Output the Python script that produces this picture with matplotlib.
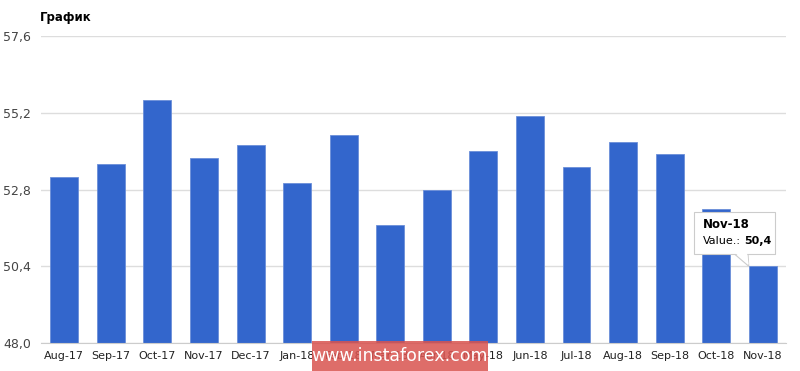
import matplotlib.pyplot as plt
from matplotlib.patches import Rectangle, Polygon
from matplotlib.ticker import FuncFormatter

months = ['Aug-17', 'Sep-17', 'Oct-17', 'Nov-17', 'Dec-17', 'Jan-18', 'Feb-18', 'Mar-18',
          'Apr-18', 'May-18', 'Jun-18', 'Jul-18', 'Aug-18', 'Sep-18', 'Oct-18', 'Nov-18']
values = [53.2, 53.6, 55.6, 53.8, 54.2, 53.0, 54.5, 51.7,
          52.8, 54.0, 55.1, 53.5, 54.3, 53.9, 52.2, 50.4]
y_ticks = [48.0, 50.4, 52.8, 55.2, 57.6]

W, H = 800, 371
fig = plt.figure(figsize=(8, 3.71), dpi=100)
ax = fig.add_axes([41 / W, 1 - 343 / H, 745 / W, 307 / H])


def fx(x):
    return x / W


def fy(y):
    return 1 - y / H


x = range(len(months))
ax.bar(x, values, width=0.6, bottom=0, color='#3366cc', edgecolor='#6b8fd9',
       linewidth=0.6, zorder=3)

ax.set_ylim(48.0, 57.6)
ax.set_xlim(-0.5, len(months) - 0.5)
ax.set_yticks(y_ticks)
ax.yaxis.set_major_formatter(FuncFormatter(lambda v, p: f'{v:.1f}'.replace('.', ',')))
ax.set_xticks(list(x))
ax.set_xticklabels(months)
ax.tick_params(axis='y', length=0, pad=7, labelsize=9, labelcolor='#444444')
ax.tick_params(axis='x', length=0, pad=6, labelsize=8, labelcolor='#222222')
ax.grid(axis='y', color='#dddddd', linewidth=1, zorder=0)
for s in ['top', 'right', 'left']:
    ax.spines[s].set_visible(False)
ax.spines['bottom'].set_color('#cccccc')
ax.spines['bottom'].set_zorder(4)

fig.text(fx(40), fy(17), 'График', fontsize=8.5, fontweight='bold', color='#000000',
         va='center', ha='left')

# tooltip for the last bar
bx0, by0, bx1, by1 = 694, 212, 775, 254
tip_x, tip_y = ax.transData.transform((len(months) - 1 - 0.3, values[-1]))
shadow = Rectangle((fx(bx0 + 1), fy(by1 + 1)), fx(bx1 - bx0), (by1 - by0) / H,
                   transform=fig.transFigure, facecolor='#cccccc', edgecolor='none',
                   zorder=10)
box = Rectangle((fx(bx0), fy(by1)), fx(bx1 - bx0), (by1 - by0) / H,
                transform=fig.transFigure, facecolor='white', edgecolor='#cccccc',
                linewidth=0.8, zorder=11)
tail = Polygon([(fx(734), fy(by1) + 0.001), (fx(748), fy(by1) + 0.001),
                (tip_x / W, tip_y / H)], closed=True, transform=fig.transFigure,
               facecolor='white', edgecolor='#cccccc', linewidth=0.8, zorder=10)
fig.patches.extend([shadow, tail, box])
tail2 = Polygon([(fx(735), fy(by1) + 0.003), (fx(747), fy(by1) + 0.003),
                 (tip_x / W, tip_y / H + 0.004)], closed=True, transform=fig.transFigure,
                facecolor='white', edgecolor='none', zorder=12)
fig.patches.append(tail2)
fig.text(fx(703), fy(225), months[-1], fontsize=8.5, fontweight='bold', color='#000000',
         va='center', ha='left', zorder=13)
fig.text(fx(703), fy(241), 'Value.:', fontsize=8, color='#000000',
         va='center', ha='left', zorder=13)
fig.text(fx(744), fy(241), f'{values[-1]:.1f}'.replace('.', ','), fontsize=8,
         fontweight='bold', color='#000000', va='center', ha='left', zorder=13)

# watermark
wm = Rectangle((fx(312), fy(371)), fx(176), 30 / H, transform=fig.transFigure,
               facecolor='#d9534f', alpha=0.85, edgecolor='none', zorder=20)
fig.patches.append(wm)
fig.text(fx(400), fy(356), 'www.instaforex.com', fontsize=12.5, color='white',
         ha='center', va='center', zorder=21)

fig.savefig('out.png', dpi=100)
